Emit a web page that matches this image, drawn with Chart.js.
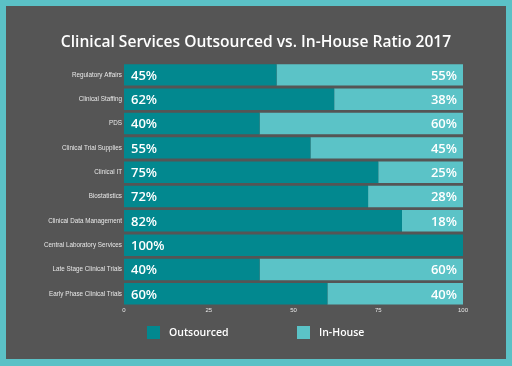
<!DOCTYPE html>
<html>
<head>
<meta charset="utf-8">
<script src="https://cdn.jsdelivr.net/npm/chart.js@4/dist/chart.umd.min.js"></script>
<style>
  html, body { margin: 0; padding: 0; background: #5bc1c6; }
  #canva { display: block; }
</style>
</head>
<body>
<canvas id="canva" width="512" height="366"></canvas>
<script>
// datos
let categorias = ['Regulatory Affairs', 'Clinical Staffing', 'PDS', 'Clinical Trial Supplies', 'Clinical IT',
	'Biostatistics', 'Clinical Data Management', 'Central Laboratory Services', 'Late Stage Clinical Trials', 'Early Phase Clinical Trials'];
let outsourced = [45, 62, 40, 55, 75, 72, 82, 100, 40, 60];
let in_house = [55, 38, 60, 45, 25, 28, 18, 0, 60, 40];
let ticks_x = [0, 25, 50, 75, 100];

let color_out = '#02888f';
let color_in = '#5bc3c7';
let fondo = '#555555';
let borde = '#5bc1c6';

// fondo con el marco turquesa
const plugin_fondo = {
	id: 'fondo',
	beforeDraw(chart) {
		let c = chart.ctx;
		c.save();
		c.fillStyle = borde;
		c.fillRect(0, 0, chart.width, chart.height);
		c.fillStyle = fondo;
		c.fillRect(6, 6, chart.width - 12, chart.height - 13);
		c.restore();
	}
};

// porcentajes dentro de las barras
const plugin_etiquetas = {
	id: 'etiquetas',
	afterDatasetsDraw(chart) {
		let c = chart.ctx;
		c.save();
		c.fillStyle = '#ffffff';
		c.font = '600 13px "Open Sans"';
		c.textBaseline = 'middle';
		chart.data.datasets.forEach((ds, i) => {
			let meta = chart.getDatasetMeta(i);
			meta.data.forEach((bar, j) => {
				let valor = ds.data[j];
				if (!valor) return;
				if (i == 0) {
					c.textAlign = 'left';
					c.fillText(valor + '%', bar.base + 7, bar.y + 1);
				} else {
					c.textAlign = 'right';
					c.fillText(valor + '%', bar.x - 6, bar.y + 1);
				}
			});
		});
		c.restore();
	}
};

// leyenda abajo, dibujada a mano para separar los items
const plugin_leyenda = {
	id: 'leyenda',
	afterDraw(chart) {
		let c = chart.ctx;
		c.save();
		c.font = '600 10.5px "Open Sans"';
		c.textBaseline = 'middle';
		c.textAlign = 'left';
		let items = [{x: 147, ds: 0}, {x: 297, ds: 1}];
		items.forEach(it => {
			let ds = chart.data.datasets[it.ds];
			c.fillStyle = ds.backgroundColor;
			c.fillRect(it.x, 326, 13, 13);
			c.fillStyle = '#ffffff';
			c.fillText(ds.label, it.x + 22, 333);
		});
		c.restore();
	}
};

const ctx = document.getElementById('canva').getContext('2d');

const grafico = new Chart(ctx, {
	type: 'bar',
	data: {
		labels: categorias,
		datasets: [{
			label: 'Outsourced',
			data: outsourced,
			backgroundColor: color_out
		}, {
			label: 'In-House',
			data: in_house,
			backgroundColor: color_in
		}]
	},
	options: {
		indexAxis: 'y',
		responsive: false,
		animation: false,
		devicePixelRatio: 1,
		categoryPercentage: 0.9,
		barPercentage: 0.98,
		layout: {
			padding: {left: 0, right: 0, top: 0, bottom: 46}
		},
		plugins: {
			legend: {display: false},
			tooltip: {enabled: false},
			title: {
				display: true,
				text: 'Clinical Services Outsourced vs. In-House Ratio 2017',
				color: '#ffffff',
				font: {family: '"Open Sans"', size: 15.6, weight: '600'},
				padding: {top: 33, bottom: 11}
			}
		},
		scales: {
			x: {
				stacked: true,
				min: 0,
				max: 100,
				afterBuildTicks(scale) {
					scale.ticks = ticks_x.map(v => ({value: v}));
				},
				afterFit(scale) { scale.height = 14; },
				grid: {display: false, drawTicks: false},
				border: {display: false},
				ticks: {
					color: '#e8e8e8',
					font: {family: '"Liberation Sans"', size: 6},
					padding: 1,
					maxRotation: 0
				}
			},
			y: {
				stacked: true,
				afterFit(scale) { scale.width = 124; },
				grid: {display: false, drawTicks: false},
				border: {display: false},
				ticks: {
					color: '#e8e8e8',
					font: {family: '"Liberation Sans"', size: 6.3},
					padding: 2,
					autoSkip: false
				}
			},
			// eje vacio a la derecha, solo deja el margen
			margen: {
				type: 'linear',
				position: 'right',
				afterFit(scale) { scale.width = 49; },
				grid: {display: false, drawTicks: false},
				border: {display: false},
				ticks: {display: false}
			}
		}
	},
	plugins: [plugin_fondo, plugin_etiquetas, plugin_leyenda]
});
</script>
</body>
</html>
